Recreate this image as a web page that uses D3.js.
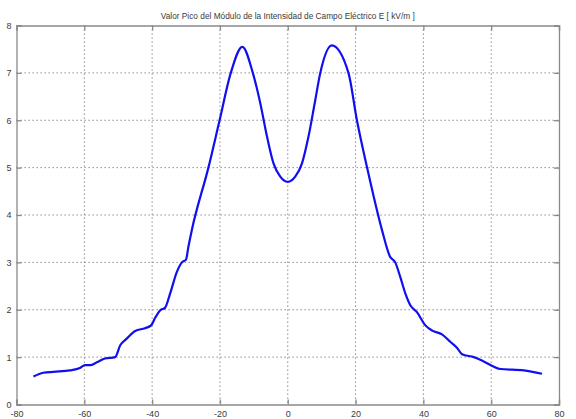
<!DOCTYPE html>
<html><head><meta charset="utf-8">
<script src="https://cdn.jsdelivr.net/npm/d3@7"></script>
<style>body{margin:0;background:#fff}svg{display:block}</style>
</head><body><svg id="c" width="576" height="419"></svg>
<script>
const title = "Valor Pico del Módulo de la Intensidad de Campo Eléctrico E [ kV/m ]";
const xTicks = [-80,-60,-40,-20,0,20,40,60,80];
const yTicks = [0,1,2,3,4,5,6,7,8];
const xs = [-75.0,-72.1,-69.1,-64.2,-61.3,-59.8,-58.3,-56.3,-53.9,-50.9,-49.4,-47.5,-45.0,-42.1,-40.3,-39.1,-37.6,-36.2,-34.7,-32.7,-31.2,-30.0,-29.3,-28.3,-23.4,-20.1,-16.8,-13.4,-10.3,-8.1,-6.1,-4.2,-2.2,0,2.2,4.2,6.1,8.0,9.6,13.0,17.9,20.4,23.4,27.8,30.1,31.7,33.2,34.7,36.2,38.1,40.6,42.6,45.5,48.0,49.9,51.4,54.9,57.8,62.7,69.6,75.0];
const ys = [0.59,0.67,0.69,0.72,0.77,0.83,0.83,0.89,0.97,1.0,1.25,1.39,1.55,1.61,1.67,1.83,1.99,2.04,2.34,2.80,3.0,3.06,3.33,3.68,5.0,6.0,7.0,7.55,7.0,6.36,5.65,5.09,4.81,4.70,4.81,5.09,5.65,6.38,7.0,7.58,7.0,6.0,5.0,3.68,3.13,3.0,2.69,2.34,2.09,1.95,1.67,1.56,1.48,1.32,1.20,1.06,1.0,0.91,0.75,0.72,0.65];

const svg = d3.select("#c");
const m = {l:16.5, r:559, t:25.5, b:404.5};
const x = d3.scaleLinear().domain([-80,80]).range([m.l,m.r]);
const y = d3.scaleLinear().domain([0,8]).range([m.b,m.t]);
const axisCol = "#8a8a8a", txtCol = "#3a3a3a";
const fmt = d => String(d);

// grid
const g = svg.append("g");
g.selectAll(".vg").data(xTicks.slice(1,-1)).join("line")
  .attr("x1",d=>x(d)).attr("x2",d=>x(d)).attr("y1",m.t).attr("y2",m.b)
  .attr("stroke","#7a7a7a").attr("stroke-width",1).attr("stroke-dasharray","1.3,2.7");
g.selectAll(".hg").data(yTicks.slice(1,-1)).join("line")
  .attr("x1",m.l).attr("x2",m.r).attr("y1",d=>y(d)).attr("y2",d=>y(d))
  .attr("stroke","#7a7a7a").attr("stroke-width",1).attr("stroke-dasharray","1.3,2.7");

// axes with inward ticks
const ax = svg.append("g").attr("transform",`translate(0,${m.b})`)
  .call(d3.axisBottom(x).tickValues(xTicks).tickSize(-5).tickPadding(8).tickFormat(fmt));
const axT = svg.append("g").attr("transform",`translate(0,${m.t})`)
  .call(d3.axisTop(x).tickValues(xTicks).tickSize(-5).tickFormat(""));
const ay = svg.append("g").attr("transform",`translate(${m.l},0)`)
  .call(d3.axisLeft(y).tickValues(yTicks).tickSize(-5).tickPadding(5).tickFormat(fmt));
const ayR = svg.append("g").attr("transform",`translate(${m.r},0)`)
  .call(d3.axisRight(y).tickValues(yTicks).tickSize(-5).tickFormat(""));
[ax,axT,ay,ayR].forEach(a=>{
  a.selectAll("path").attr("stroke",axisCol).attr("stroke-width",1.3);
  a.selectAll("line").attr("stroke",axisCol).attr("stroke-width",1.3);
  a.selectAll("text").attr("fill",txtCol).style("font-family","'Liberation Sans',Arial,sans-serif").style("font-size","9px");
});
ax.selectAll("text").attr("dy","0.5em");

// curve
const pts = xs.map((v,i)=>[v,ys[i]]);
svg.append("path").datum(pts)
  .attr("d", d3.line().x(d=>x(d[0])).y(d=>y(d[1])).curve(d3.curveMonotoneX))
  .attr("fill","none").attr("stroke","#1010ee").attr("stroke-width",2.2).attr("stroke-linejoin","round");

// title
svg.append("text").attr("x",(m.l+m.r)/2).attr("y",19).attr("text-anchor","middle")
  .attr("fill",txtCol).style("font-family","'Liberation Sans',Arial,sans-serif").style("font-size","8.3px")
  .text(title);
</script></body></html>
